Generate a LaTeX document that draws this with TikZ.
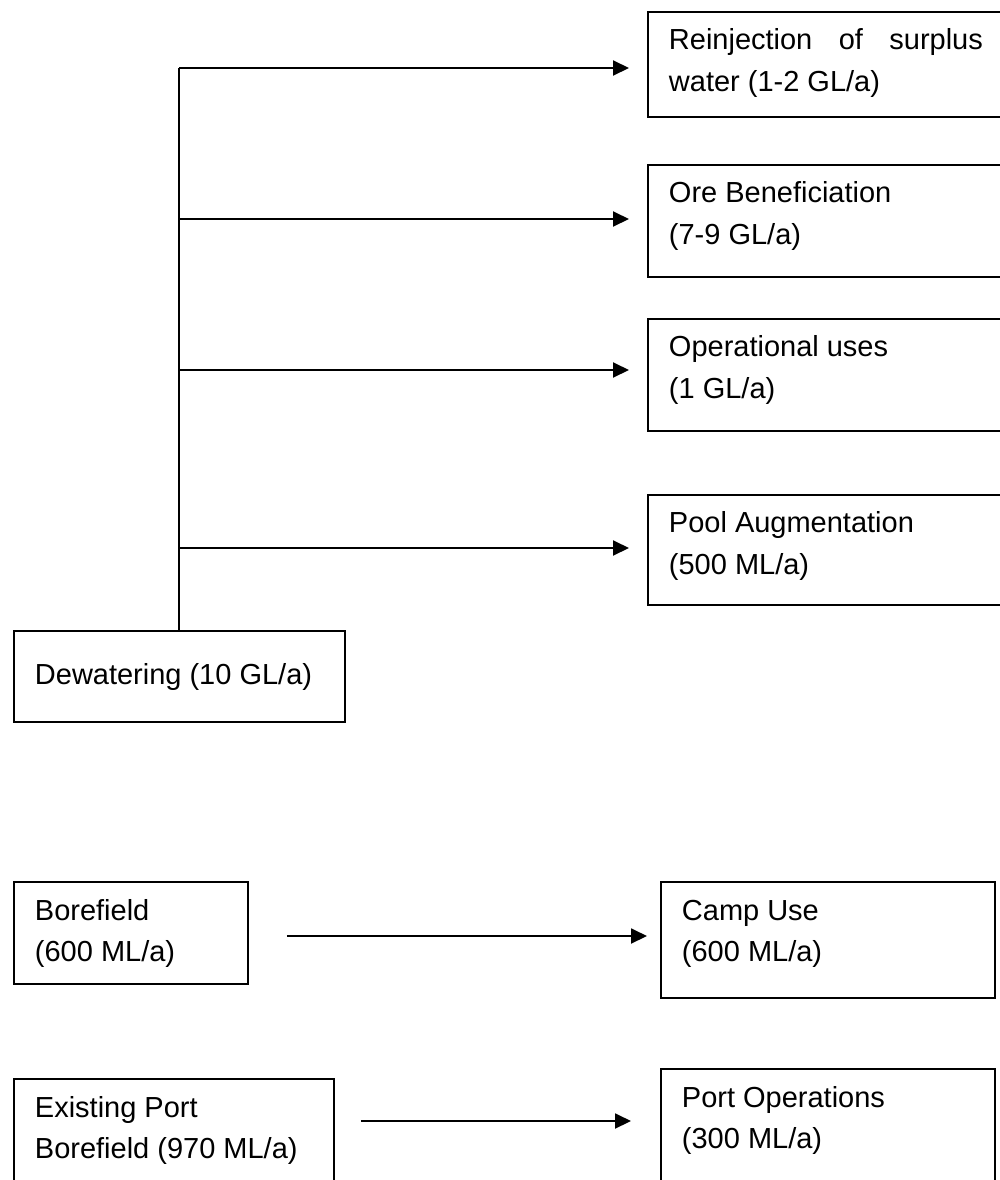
\documentclass[tikz,border=0pt]{standalone}
\usepackage{fontspec}
\setmainfont{Liberation Sans}
\usepackage{tikz}
\usetikzlibrary{arrows.meta}
\usetikzlibrary{positioning}
\newcommand{\BoxText}[4][t]{\parbox[c][#2][#1]{#3}{\strut #4}}

\begin{document}
\begin{tikzpicture}[
x=0.02cm,y=-0.02cm,
MyBoxes/.style={draw=black,line width=1.1pt,inner xsep=0.42cm,inner ysep=0.18cm,anchor=north west,font=\fontsize{16.5pt}{23.6pt}\selectfont},
MyLines/.style={draw=black,line width=1.1pt},
MyArrows/.style={MyLines,-{Triangle[length=0.32cm,width=0.3cm]},shorten >=0.36cm}
]
\useasboundingbox (0,0) rectangle (1000,1180);

% dewatering and its uses
\node[MyBoxes] (reinj) at (647,11) {\BoxText{1.74cm}{6.28cm}{Reinjection of surplus\linebreak water (1-2 GL/a)}};
\node[MyBoxes] (ore) at (647,164) {\BoxText{1.88cm}{6.28cm}{Ore Beneficiation\\(7-9 GL/a)}};
\node[MyBoxes] (oper) at (647,318) {\BoxText{1.88cm}{6.28cm}{Operational uses\\(1 GL/a)}};
\node[MyBoxes] (pool) at (647,494) {\BoxText{1.84cm}{6.28cm}{Pool Augmentation\\(500 ML/a)}};
\node[MyBoxes] (dewat) at (13,630) {\BoxText[c]{1.46cm}{5.78cm}{Dewatering (10 GL/a)}};

\draw[MyLines] (dewat.north) -- (dewat.north |- 0,68);
\foreach \y/\dst in {68/reinj,219/ore,370/oper,548/pool}{
  \coordinate (tap) at (dewat.north |- 0,\y);
  \draw[MyArrows] (tap) -- (tap -| \dst.west);
}

% borefields
\node[MyBoxes] (bore) at (13,881) {\BoxText{1.68cm}{3.84cm}{Borefield\\(600 ML/a)}};
\node[MyBoxes] (camp) at (660,881) {\BoxText{1.96cm}{5.84cm}{Camp Use\\(600 ML/a)}};
\node[MyBoxes] (exist) at (13,1078) {\BoxText{2.04cm}{5.56cm}{Existing Port\\Borefield (970 ML/a)}};
\node[MyBoxes] (portops) at (660,1068) {\BoxText{2.04cm}{5.84cm}{Port Operations\\(300 ML/a)}};

\draw[MyArrows,shorten <=0.76cm,shorten >=0.26cm] (bore.east |- 0,936) -- (camp.west |- 0,936);
\draw[MyArrows,shorten <=0.52cm,shorten >=0.58cm] (exist.east |- 0,1121) -- (portops.west |- 0,1121);

\end{tikzpicture}
\end{document}
